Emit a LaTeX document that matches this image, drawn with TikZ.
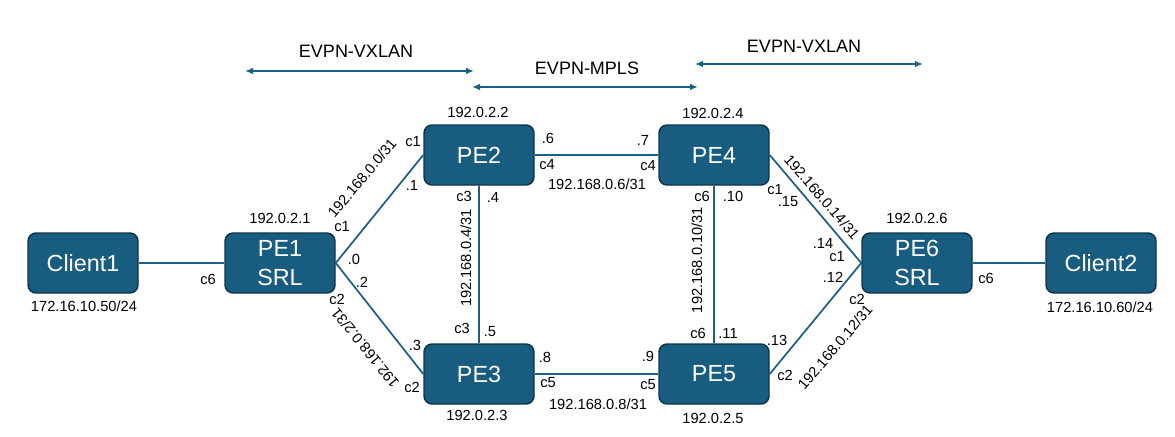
\documentclass[tikz,border=0pt]{standalone}
\usepackage{fontspec}
\setmainfont{Liberation Sans}
\usetikzlibrary{arrows.meta}
\definecolor{boxfill}{RGB}{24,92,128}
\definecolor{boxline}{RGB}{14,52,74}
\definecolor{wire}{RGB}{30,96,132}
\begin{document}
\begin{tikzpicture}[x=0.75pt,y=-0.75pt,
  dev/.style={draw=boxline, line width=1.1pt, fill=boxfill, rounded corners=6pt,
    minimum width=82.5pt, minimum height=45pt, text=white,
    font=\fontsize{17.5}{22}\selectfont, align=center, inner sep=0pt},
  lbl/.style={font=\fontsize{11}{13}\selectfont, inner sep=0pt, text=black},
  tlbl/.style={font=\fontsize{13.5}{16}\selectfont, inner sep=0pt, text=black},
  link/.style={draw=wire, line width=1.3pt},
  span/.style={draw=wire, line width=1.3pt, {Latex[length=6pt,width=5pt]}-{Latex[length=6pt,width=5pt]}}]
\useasboundingbox (0,0) rectangle (1175,436);

% devices
\node[dev] (c1) at (83,263) {Client1};
\node[dev] (pe1) at (280,263) {PE1\\SRL};
\node[dev] (pe2) at (479,155) {PE2};
\node[dev] (pe3) at (479,374) {PE3};
\node[dev] (pe4) at (714,155) {PE4};
\node[dev] (pe5) at (714,374) {PE5};
\node[dev] (pe6) at (917,263) {PE6\\SRL};
\node[dev] (c2) at (1101,263) {Client2};

% links
\draw[link] (c1.east) -- (pe1.west);
\draw[link] (pe1.east) -- (pe2.west);
\draw[link] (pe1.east) -- (pe3.west);
\draw[link] (pe2.south) -- (pe3.north);
\draw[link] (pe2.east) -- (pe4.west);
\draw[link] (pe3.east) -- (pe5.west);
\draw[link] (pe4.south) -- (pe5.north);
\draw[link] (pe4.east) -- (pe6.west);
\draw[link] (pe5.east) -- (pe6.west);
\draw[link] (pe6.east) -- (c2.west);

% top spans
\coordinate (a1) at (245,71); \coordinate (a2) at (474,71);
\coordinate (b1) at (472,87); \coordinate (b2) at (698,87);
\coordinate (d1) at (695,64); \coordinate (d2) at (923,64);
\draw[span] (a1) -- (a2);
\draw[span] (b1) -- (b2);
\draw[span] (d1) -- (d2);
\node[tlbl] (t1) at (356,51) {EVPN-VXLAN};
\node[tlbl] (t2) at (587,68) {EVPN-MPLS};
\node[tlbl] (t3) at (804,46) {EVPN-VXLAN};

% device addresses
\node[lbl] (ip1) at (280,218) {192.0.2.1};
\node[lbl] (ip2) at (478,112) {192.0.2.2};
\node[lbl] (ip3) at (477,415) {192.0.2.3};
\node[lbl] (ip4) at (713,113) {192.0.2.4};
\node[lbl] (ip5) at (713,418) {192.0.2.5};
\node[lbl] (ip6) at (917,218) {192.0.2.6};
\node[lbl] (cip1) at (84,306) {172.16.10.50/24};
\node[lbl] (cip2) at (1100,307) {172.16.10.60/24};

% PE1 ports
\node[lbl] (p1a) at (208,279) {c6};
\node[lbl] (p1b) at (342,227) {c1};
\node[lbl] (p1c) at (354,259) {.0};
\node[lbl] (p1d) at (362,282) {.2};
\node[lbl] (p1e) at (337,299) {c2};
% PE2 ports
\node[lbl] (p2a) at (413,142) {c1};
\node[lbl] (p2b) at (412,185) {.1};
\node[lbl] (p2c) at (548,138) {.6};
\node[lbl] (p2d) at (547,165) {c4};
\node[lbl] (p2e) at (464,196) {c3};
\node[lbl] (p2f) at (493,197) {.4};
% PE3 ports
\node[lbl] (p3a) at (462,328) {c3};
\node[lbl] (p3b) at (490,332) {.5};
\node[lbl] (p3c) at (415,345) {.3};
\node[lbl] (p3d) at (412,387) {c2};
\node[lbl] (p3e) at (545,357) {.8};
\node[lbl] (p3f) at (548,383) {c5};
% PE4 ports
\node[lbl] (p4a) at (643,140) {.7};
\node[lbl] (p4b) at (648,166) {c4};
\node[lbl] (p4c) at (702,196) {c6};
\node[lbl] (p4d) at (733,196) {.10};
\node[lbl] (p4e) at (775,190) {c1};
\node[lbl] (p4f) at (788,202) {.15};
% PE5 ports
\node[lbl] (p5a) at (698,333) {c6};
\node[lbl] (p5b) at (728,333) {.11};
\node[lbl] (p5c) at (777,340) {.13};
\node[lbl] (p5d) at (648,356) {.9};
\node[lbl] (p5e) at (648,385) {c5};
\node[lbl] (p5f) at (785,375) {c2};
% PE6 ports
\node[lbl] (p6a) at (823,243) {.14};
\node[lbl] (p6b) at (837,257) {c1};
\node[lbl] (p6c) at (833,277) {.12};
\node[lbl] (p6d) at (857,299) {c2};
\node[lbl] (p6e) at (986,278) {c6};

% subnets
\node[lbl, rotate=50] (s1) at (362,178) {192.168.0.0/31};
\node[lbl, rotate=129] (s2) at (365,348) {192.168.0.2/31};
\node[lbl, rotate=90] (s3) at (466,258) {192.168.0.4/31};
\node[lbl] (s4) at (597,184) {192.168.0.6/31};
\node[lbl] (s5) at (598,404) {192.168.0.8/31};
\node[lbl, rotate=90] (s6) at (697,260) {192.168.0.10/31};
\node[lbl, rotate=49.5] (s7) at (835,347) {192.168.0.12/31};
\node[lbl, rotate=-49] (s8) at (822,197) {192.168.0.14/31};
\end{tikzpicture}
\end{document}
